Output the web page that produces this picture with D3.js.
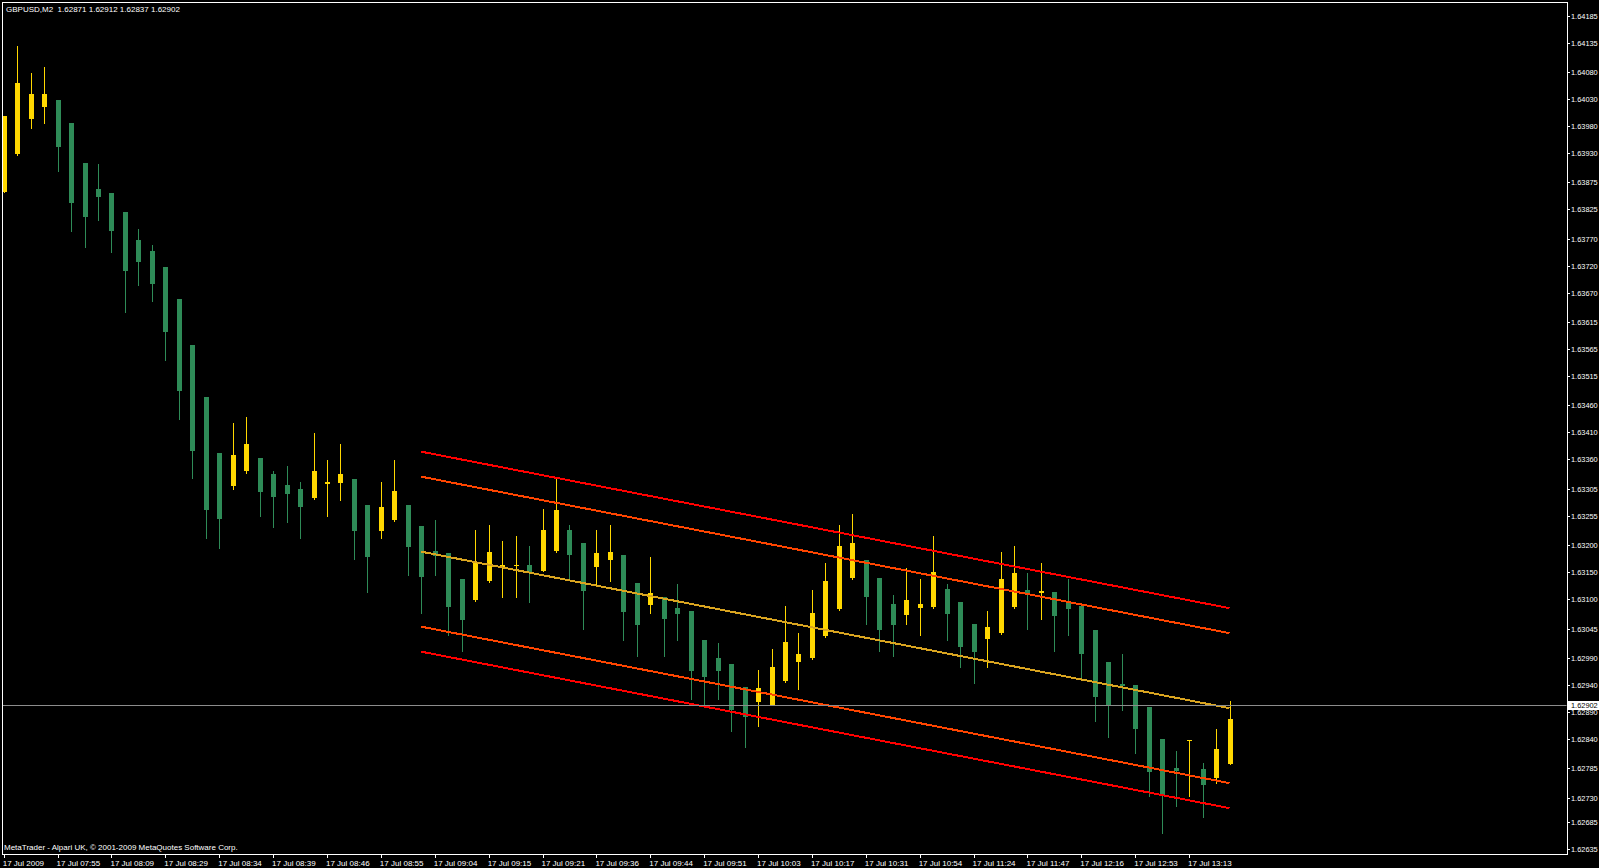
<!DOCTYPE html>
<html><head><meta charset="utf-8">
<script src="https://cdn.jsdelivr.net/npm/d3@7"></script>
<style>html,body{margin:0;padding:0;background:#000;overflow:hidden}svg{display:block}</style>
</head><body><svg id="c" width="1599" height="868"></svg>
<script>
const symbolTitle = "GBPUSD,M2  1.62871 1.62912 1.62837 1.62902";
const copyright = "MetaTrader - Alpari UK, © 2001-2009 MetaQuotes Software Corp.";
const opens = [1.63857,1.63928,1.63993,1.64015,1.64028,1.63985,1.63911,1.63863,1.63855,1.63820,
1.63768,1.63747,1.63718,1.63658,1.63572,1.63476,1.63371,1.63311,1.63338,1.63363,
1.63333,1.63312,1.63305,1.63288,1.63313,1.63315,1.63323,1.63275,1.63227,1.63247,
1.63275,1.63236,1.63189,1.63186,1.63137,1.63098,1.63134,1.63158,1.63161,1.63163,
1.63152,1.63189,1.63228,1.63204,1.63160,1.63173,1.63182,1.63130,1.63089,1.63104,
1.63083,1.63078,1.63024,1.62990,1.62979,1.62936,1.62909,1.62903,1.62948,1.62983,
1.62990,1.63031,1.63082,1.63139,1.63173,1.63139,1.63091,1.63070,1.63083,1.63085,
1.63119,1.63095,1.63054,1.63026,1.63037,1.63085,1.63117,1.63111,1.63113,1.63096,
1.63087,1.63042,1.62983,1.62942,1.62940,1.62899,1.62840,1.62786,1.62838,1.62784,
1.62767,1.62793];
const highs = [1.63998,1.64129,1.64079,1.64089,1.64028,1.63985,1.63911,1.63909,1.63855,1.63820,
1.63789,1.63759,1.63718,1.63658,1.63572,1.63476,1.63371,1.63427,1.63438,1.63363,
1.63338,1.63348,1.63318,1.63409,1.63359,1.63388,1.63323,1.63275,1.63318,1.63359,
1.63275,1.63236,1.63247,1.63186,1.63137,1.63228,1.63238,1.63208,1.63217,1.63199,
1.63268,1.63325,1.63238,1.63204,1.63228,1.63238,1.63182,1.63130,1.63178,1.63104,
1.63128,1.63078,1.63024,1.63018,1.62979,1.62936,1.62968,1.63007,1.63087,1.63037,
1.63117,1.63167,1.63238,1.63258,1.63173,1.63139,1.63108,1.63158,1.63137,1.63217,
1.63128,1.63095,1.63054,1.63078,1.63188,1.63199,1.63148,1.63167,1.63113,1.63137,
1.63087,1.63042,1.62983,1.62998,1.62940,1.62899,1.62840,1.62817,1.62838,1.62795,
1.62858,1.62910];
const lows = [1.63857,1.63926,1.63976,1.63985,1.63896,1.63785,1.63755,1.63805,1.63745,1.63634,
1.63685,1.63655,1.63544,1.63435,1.63326,1.63214,1.63195,1.63305,1.63334,1.63254,
1.63234,1.63244,1.63214,1.63286,1.63255,1.63285,1.63175,1.63113,1.63214,1.63246,
1.63145,1.63074,1.63145,1.63033,1.63003,1.63096,1.63132,1.63104,1.63104,1.63095,
1.63152,1.63188,1.63135,1.63044,1.63126,1.63134,1.63024,1.62994,1.63074,1.62994,
1.63024,1.62914,1.62903,1.62914,1.62855,1.62825,1.62864,1.62903,1.62946,1.62933,
1.62989,1.63029,1.63080,1.63137,1.63054,1.63003,1.62994,1.63054,1.63033,1.63083,
1.63024,1.62974,1.62944,1.62974,1.63035,1.63083,1.63044,1.63063,1.63003,1.63033,
1.62951,1.62873,1.62843,1.62894,1.62814,1.62734,1.62665,1.62715,1.62734,1.62695,
1.62758,1.62793];
const closes = [1.63998,1.64060,1.64039,1.64039,1.63941,1.63837,1.63811,1.63848,1.63785,1.63710,
1.63727,1.63686,1.63597,1.63487,1.63376,1.63266,1.63249,1.63368,1.63388,1.63299,
1.63290,1.63296,1.63271,1.63338,1.63318,1.63333,1.63227,1.63179,1.63271,1.63301,
1.63197,1.63141,1.63180,1.63085,1.63061,1.63169,1.63188,1.63164,1.63163,1.63148,
1.63228,1.63266,1.63182,1.63115,1.63186,1.63188,1.63076,1.63052,1.63111,1.63063,
1.63072,1.62966,1.62955,1.62966,1.62894,1.62881,1.62935,1.62974,1.63020,1.62998,
1.63074,1.63134,1.63199,1.63204,1.63104,1.63042,1.63052,1.63098,1.63091,1.63150,
1.63072,1.63011,1.63002,1.63048,1.63137,1.63148,1.63108,1.63115,1.63068,1.63082,
1.62998,1.62918,1.62901,1.62938,1.62858,1.62778,1.62736,1.62781,1.62838,1.62754,
1.62821,1.62877];
const timeLabels = ["17 Jul 2009","17 Jul 07:55","17 Jul 08:09","17 Jul 08:29","17 Jul 08:34","17 Jul 08:39",
"17 Jul 08:46","17 Jul 08:55","17 Jul 09:04","17 Jul 09:15","17 Jul 09:21","17 Jul 09:36","17 Jul 09:44",
"17 Jul 09:51","17 Jul 10:03","17 Jul 10:17","17 Jul 10:31","17 Jul 10:54","17 Jul 11:24","17 Jul 11:47",
"17 Jul 12:16","17 Jul 12:53","17 Jul 13:13"];
const priceTicks = [1.64185,1.64135,1.64080,1.64030,1.63980,1.63930,1.63875,1.63825,1.63770,1.63720,1.63670,
1.63615,1.63565,1.63515,1.63460,1.63410,1.63360,1.63305,1.63255,1.63200,1.63150,1.63100,1.63045,1.62990,
1.62940,1.62890,1.62840,1.62785,1.62730,1.62685,1.62635];
const bidPrice = 1.62902;
const channelBars = [31, 91];
const channelMid = [1.63188, 1.62897];
const channelDevs = [1.395e-3, 1.86e-3];
const channelColors = ["#ff4500", "#ff0000"];

const W = 1599, H = 868;
const L = 2, T = 2, R = 1567, B = 854;
const svg = d3.select("#c");
const FONT = "Liberation Sans, Arial, sans-serif";
svg.append("rect").attr("width", W).attr("height", H).attr("fill", "#000");

const x = d3.scaleLinear().domain([0, 91]).range([3.7, 1229.5]);
const y = d3.scaleLinear().domain([1.62635, 1.64185]).range([849.0, 15.7]);

svg.append("clipPath").attr("id", "plot").append("rect")
  .attr("x", L + 0.5).attr("y", T + 0.5).attr("width", R - L - 1).attr("height", B - T - 1);

const g = svg.append("g").attr("clip-path", "url(#plot)");
const bars = d3.range(opens.length).map(i => ({i, o: opens[i], h: highs[i], l: lows[i], c: closes[i]}));
const up = d => d.c >= d.o;
const cUp = "#ffd700", cDn = "#2e8b57";

g.selectAll("line.wick").data(bars).join("line")
  .attr("x1", d => Math.round(x(d.i)) + 0.5).attr("x2", d => Math.round(x(d.i)) + 0.5)
  .attr("y1", d => Math.round(y(d.h))).attr("y2", d => Math.round(y(d.l)) + 1)
  .attr("stroke", d => up(d) ? cUp : cDn).attr("stroke-width", 1)
  .attr("shape-rendering", "crispEdges");

g.selectAll("rect.body").data(bars).join("rect")
  .attr("x", d => Math.round(x(d.i)) - 2).attr("width", 5)
  .attr("y", d => Math.round(y(Math.max(d.o, d.c))))
  .attr("height", d => Math.max(1, Math.round(y(Math.min(d.o, d.c))) - Math.round(y(Math.max(d.o, d.c)))))
  .attr("fill", d => up(d) ? cUp : cDn)
  .attr("shape-rendering", "crispEdges");

// regression channel
const chLines = [{off: 0, col: "#daa520"}];
channelDevs.forEach((dv, k) => {
  chLines.push({off: dv, col: channelColors[k]});
  chLines.push({off: -dv, col: channelColors[k]});
});
g.selectAll("line.ch").data(chLines).join("line")
  .attr("x1", x(channelBars[0])).attr("x2", x(channelBars[1]))
  .attr("y1", d => y(channelMid[0] + d.off)).attr("y2", d => y(channelMid[1] + d.off))
  .attr("stroke", d => d.col).attr("stroke-width", 2).attr("shape-rendering", "crispEdges");

// bid line
g.append("line").attr("x1", L).attr("x2", R)
  .attr("y1", Math.round(y(bidPrice)) + 0.5).attr("y2", Math.round(y(bidPrice)) + 0.5)
  .attr("stroke", "#8c8c8c").attr("stroke-width", 1);

// frame
svg.append("rect").attr("x", L + 0.5).attr("y", T + 0.5).attr("width", R - L).attr("height", B - T)
  .attr("fill", "none").attr("stroke", "#fff").attr("stroke-width", 1);

// right axis
const ya = svg.append("g");
ya.selectAll("line").data(priceTicks).join("line")
  .attr("x1", R).attr("x2", R + 3)
  .attr("y1", d => Math.round(y(d)) + 0.5).attr("y2", d => Math.round(y(d)) + 0.5)
  .attr("stroke", "#fff");
ya.selectAll("text").data(priceTicks).join("text")
  .attr("x", R + 4).attr("y", d => y(d) + 3)
  .attr("fill", "#fff").attr("font-family", FONT).attr("font-size", 7.4)
  .text(d => d.toFixed(5));

// bid label
svg.append("rect").attr("x", R + 1).attr("y", Math.round(y(bidPrice)) - 4).attr("width", W - R).attr("height", 9).attr("fill", "#fff");
svg.append("text").attr("x", R + 4).attr("y", y(bidPrice) + 3).attr("fill", "#000")
  .attr("font-family", FONT).attr("font-size", 7.4).text(bidPrice.toFixed(5));

// bottom axis
const xa = svg.append("g");
xa.selectAll("line").data(timeLabels).join("line")
  .attr("x1", (d, k) => Math.round(x(k * 4)) + 0.5).attr("x2", (d, k) => Math.round(x(k * 4)) + 0.5)
  .attr("y1", B).attr("y2", B + 4).attr("stroke", "#fff");
xa.selectAll("text").data(timeLabels).join("text")
  .attr("x", (d, k) => x(k * 4) - 1).attr("y", 866)
  .attr("fill", "#fff").attr("font-family", FONT).attr("font-size", 8)
  .text(d => d);

// title and copyright
svg.append("text").attr("x", 6).attr("y", 11.5).attr("fill", "#fff")
  .attr("font-family", FONT).attr("font-size", 8).style("white-space", "pre").text(symbolTitle);
svg.append("text").attr("x", 4).attr("y", 850).attr("fill", "#fff")
  .attr("font-family", FONT).attr("font-size", 8).text(copyright);
</script></body></html>
